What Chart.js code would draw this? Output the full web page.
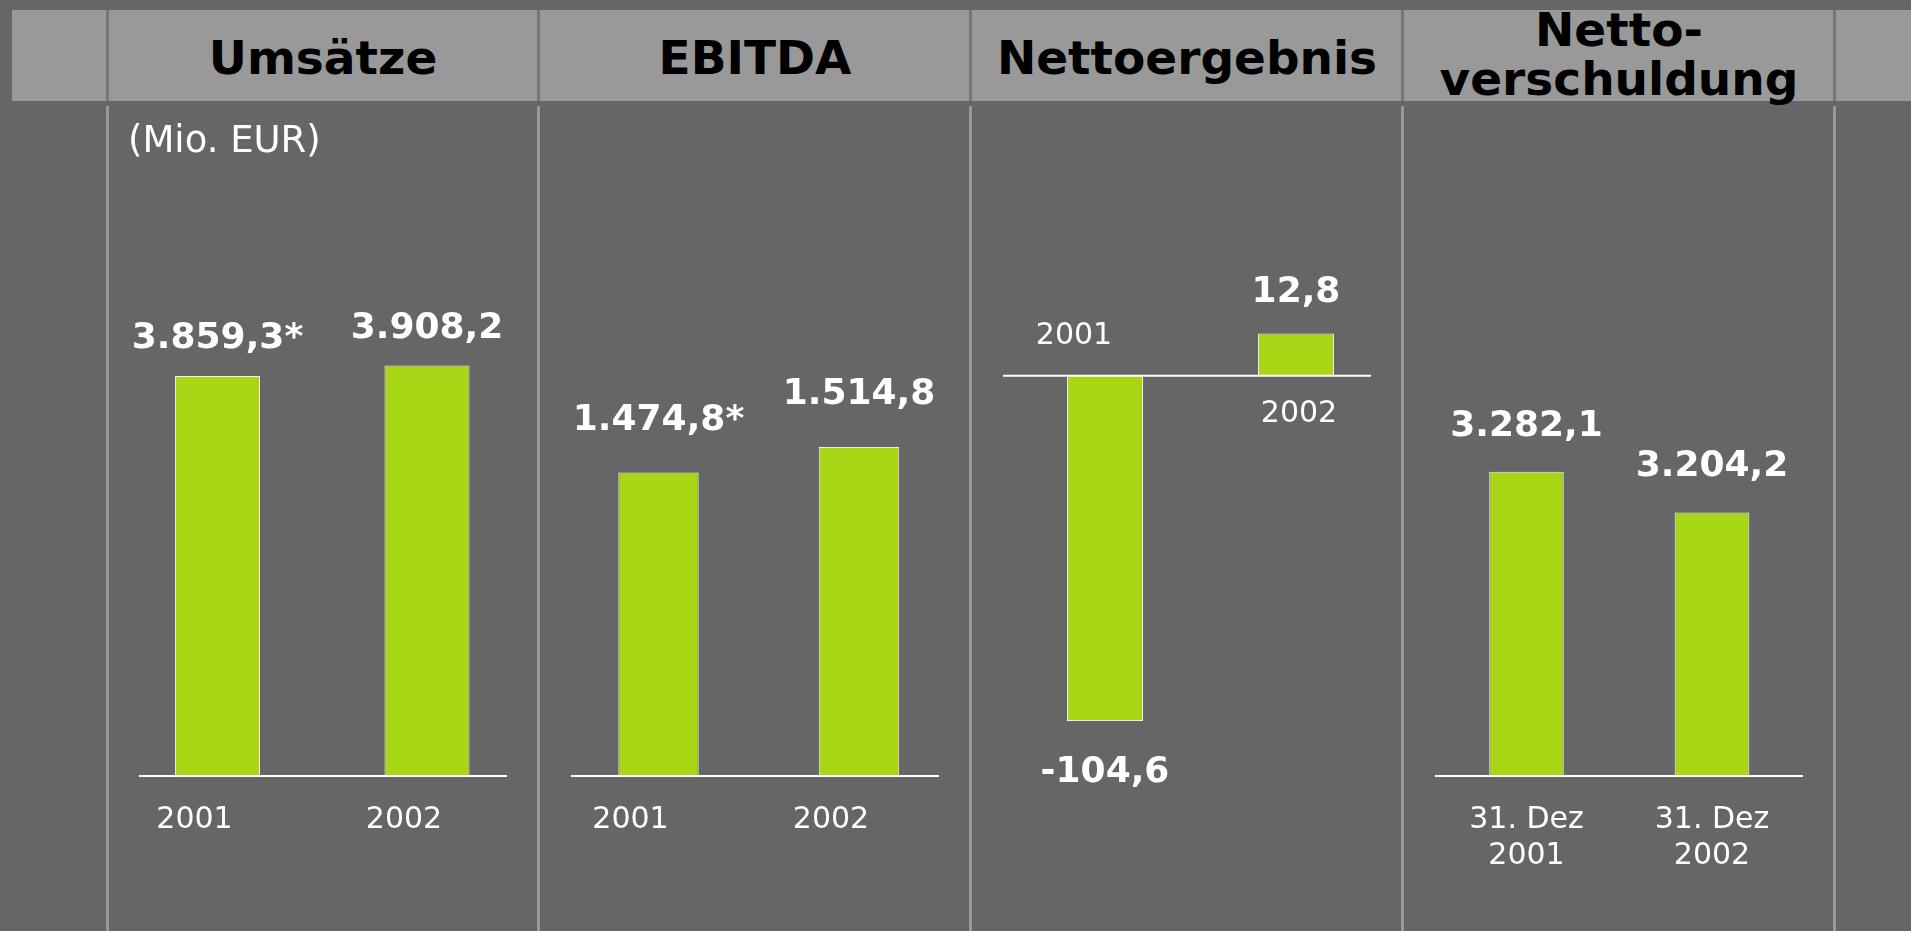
<!DOCTYPE html>
<html lang="de">
<head>
<meta charset="utf-8">
<title>Kennzahlen 2001 / 2002</title>
<script src="https://cdn.jsdelivr.net/npm/chart.js@4.4.1/dist/chart.umd.min.js"></script>
<style>
    html, body { margin: 0; padding: 0; }
    body {
        width: 1911px; height: 931px; background: #666; position: relative;
        overflow: hidden; font-family: 'DejaVu Sans', sans-serif;
    }
    .band { position: absolute; left: 12px; top: 10px; width: 1899px; height: 91px; background: #999; }
    .hsep { position: absolute; top: 10px; height: 91px; width: 3px; background: #777; }
    .vsep { position: absolute; top: 106px; bottom: 0; width: 3px; background: #999; }
    .head {
        position: absolute; width: 432px; text-align: center; font-weight: bold;
        font-size: 47px; line-height: 47px; color: #000; top: 34px;
    }
    .head.two { top: 5px; line-height: 49px; }
    .panel { position: absolute; top: 101px; width: 432px; height: 830px; }
    .unit { position: absolute; left: 128px; top: 121px; font-size: 37px; line-height: 37px; color: #fff; }
</style>
</head>
<body>
<div class="band"></div>
<div class="hsep" style="left:106px"></div>
<div class="hsep" style="left:537px"></div>
<div class="hsep" style="left:969px"></div>
<div class="hsep" style="left:1401px"></div>
<div class="hsep" style="left:1833px"></div>

<div class="head" style="left:107px">Umsätze</div>
<div class="head" style="left:539px">EBITDA</div>
<div class="head" style="left:971px">Nettoergebnis</div>
<div class="head two" style="left:1403px">Netto-<br>verschuldung</div>

<div class="panel" style="left:107px"><canvas id="revenueChart" width="432" height="830"></canvas></div>
<div class="panel" style="left:539px"><canvas id="ebitdaChart" width="432" height="830"></canvas></div>
<div class="panel" style="left:971px"><canvas id="netIncomeChart" width="432" height="830"></canvas></div>
<div class="panel" style="left:1403px"><canvas id="netDebtChart" width="432" height="830"></canvas></div>

<div class="vsep" style="left:106px"></div>
<div class="vsep" style="left:537px"></div>
<div class="vsep" style="left:969px"></div>
<div class="vsep" style="left:1401px"></div>
<div class="vsep" style="left:1833px"></div>

<div class="unit">(Mio. EUR)</div>

<script>
// Werte in Mio. EUR
const revenueLabels = ['2001', '2002'];
const revenueValues = [3859.3, 3908.2];
const revenueNotes = ['*', ''];

const ebitdaLabels = ['2001', '2002'];
const ebitdaValues = [1474.8, 1514.8];
const ebitdaNotes = ['*', ''];

const netIncomeLabels = ['2001', '2002'];
const netIncomeValues = [-104.6, 12.8];

const netDebtLabels = [['31. Dez', '2001'], ['31. Dez', '2002']];
const netDebtValues = [3282.1, 3204.2];

// 3859.3 -> "3.859,3"
function deNumber(v) {
    const parts = Math.abs(v).toFixed(1).split('.');
    const int = parts[0].replace(/\B(?=(\d{3})+(?!\d))/g, '.');
    return (v < 0 ? '-' : '') + int + ',' + parts[1];
}

const baseLine = {
    id: 'baseLine',
    afterDatasetsDraw(chart, args, opts) {
        const ctx = chart.ctx;
        const y = chart.scales.y.getBasePixel();
        ctx.save();
        ctx.strokeStyle = '#fff';
        ctx.lineWidth = 2;
        ctx.beginPath();
        ctx.moveTo(opts.from, y);
        ctx.lineTo(opts.to, y);
        ctx.stroke();
        ctx.restore();
    }
};

const valueLabels = {
    id: 'valueLabels',
    afterDatasetsDraw(chart, args, opts) {
        const ctx = chart.ctx;
        const ds = chart.data.datasets[0];
        const notes = opts.notes || [];
        ctx.save();
        ctx.fillStyle = '#fff';
        ctx.font = 'bold 36px "DejaVu Sans"';
        ctx.textAlign = 'center';
        ctx.textBaseline = 'alphabetic';
        chart.getDatasetMeta(0).data.forEach((bar, i) => {
            const v = ds.data[i];
            const y = v < 0 ? bar.y + opts.below : bar.y - opts.above;
            ctx.fillText(deNumber(v) + (notes[i] || ''), bar.x, y);
        });
        ctx.restore();
    }
};

// category names on the side of the zero line opposite to the bar
const flipLabels = {
    id: 'flipLabels',
    afterDatasetsDraw(chart, args, opts) {
        const ctx = chart.ctx;
        const ds = chart.data.datasets[0];
        const zero = chart.scales.y.getPixelForValue(0);
        ctx.save();
        ctx.fillStyle = '#fff';
        ctx.font = '30px "DejaVu Sans"';
        ctx.textAlign = 'center';
        ctx.textBaseline = 'alphabetic';
        chart.getDatasetMeta(0).data.forEach((bar, i) => {
            const label = chart.data.labels[i];
            if (ds.data[i] < 0) {
                ctx.fillText(label, bar.x + opts.shiftNeg, zero - opts.above);
            } else {
                ctx.fillText(label, bar.x + opts.shiftPos, zero + opts.below);
            }
        });
        ctx.restore();
    }
};

function makePanel(id, cfg) {
    return new Chart(document.getElementById(id), {
        type: 'bar',
        data: {
            labels: cfg.labels,
            datasets: [{
                data: cfg.values,
                backgroundColor: '#a8d514',
                borderColor: '#eeeeee',
                borderWidth: 1,
                barPercentage: cfg.bar,
                categoryPercentage: 1
            }]
        },
        options: {
            responsive: false,
            animation: false,
            devicePixelRatio: 1,
            layout: { padding: { left: cfg.padL, right: cfg.padR, top: 20, bottom: 0 } },
            plugins: {
                legend: { display: false },
                tooltip: { enabled: false },
                baseLine: { from: 32, to: 400 },
                valueLabels: cfg.valueLabels,
                flipLabels: { above: 32, below: 46, shiftNeg: -31, shiftPos: 3 }
            },
            scales: {
                x: {
                    grid: { display: false, drawTicks: false },
                    border: { display: false },
                    ticks: {
                        display: cfg.ticks !== false,
                        color: '#fff',
                        font: { family: 'DejaVu Sans', size: 30 },
                        padding: 26,
                        labelOffset: cfg.labelShift || 0,
                        maxRotation: 0,
                        autoSkip: false
                    },
                    afterFit(scale) { scale.height = 155; }
                },
                y: { display: false, min: cfg.min, max: cfg.max }
            }
        },
        plugins: cfg.plugins
    });
}

makePanel('revenueChart', {
    labels: revenueLabels, values: revenueValues,
    min: 2000, max: 5045, bar: 0.406, padL: 5.75, padR: 7.25, labelShift: -23,
    valueLabels: { above: 28, below: 0, notes: revenueNotes },
    plugins: [valueLabels, baseLine]
});

makePanel('ebitdaChart', {
    labels: ebitdaLabels, values: ebitdaValues,
    min: 1000, max: 2025, bar: 0.401, padL: 19.25, padR: 11.75, labelShift: -28,
    valueLabels: { above: 43, below: 0, notes: ebitdaNotes },
    plugins: [valueLabels, baseLine]
});

makePanel('netIncomeChart', {
    labels: netIncomeLabels, values: netIncomeValues,
    min: -121.3, max: 77.2, bar: 0.398, padL: 38.5, padR: 11.5, ticks: false,
    valueLabels: { above: 32, below: 61 },
    plugins: [valueLabels, baseLine, flipLabels]
});

makePanel('netDebtChart', {
    labels: netDebtLabels, values: netDebtValues,
    min: 2700, max: 3953, bar: 0.402, padL: 30.75, padR: 30.25,
    valueLabels: { above: 36, below: 0 },
    plugins: [valueLabels, baseLine]
});
</script>
</body>
</html>
